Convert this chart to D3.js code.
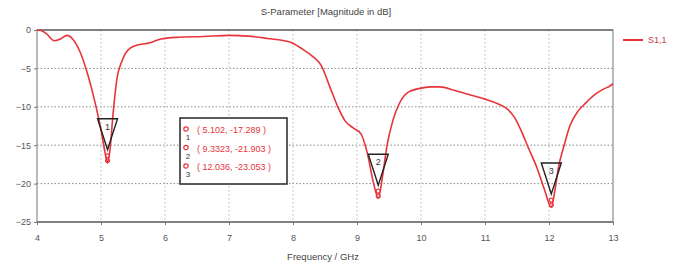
<!DOCTYPE html>
<html>
<head>
<meta charset="utf-8">
<script src="https://cdn.jsdelivr.net/npm/d3@7"></script>
<style>
  body { margin: 0; background: #fff; }
  svg { display: block; font-family: "Liberation Sans", Arial, sans-serif; }
</style>
</head>
<body>
<svg id="chart" width="676" height="265"></svg>
<script>
// S1,1 magnitude in dB
var freq = [4.00, 4.06, 4.15, 4.27, 4.36, 4.47, 4.56, 4.67, 4.80, 4.90, 5.00, 5.06, 5.102, 5.14, 5.19, 5.25, 5.33, 5.45, 5.60, 5.75,
            5.92, 6.20, 6.60, 7.00, 7.30, 7.60, 7.95, 8.15, 8.30, 8.44, 8.58, 8.70, 8.82, 8.95, 9.06, 9.16, 9.26, 9.3323, 9.40, 9.47,
            9.56, 9.66, 9.80, 9.98, 10.15, 10.30, 10.50, 10.75, 11.00, 11.20, 11.35, 11.47, 11.57, 11.68, 11.81, 11.93, 12.036, 12.09, 12.15, 12.23,
            12.33, 12.45, 12.55, 12.70, 12.85, 12.95, 13.00];
var s11 = [0, -0.05, -0.5, -1.4, -1.2, -0.7, -1.2, -2.8, -6.0, -9.2, -13.0, -15.8, -17.289, -15.6, -10.8, -6.3, -4.0, -2.4, -1.9, -1.7,
           -1.2, -0.95, -0.85, -0.7, -0.8, -1.1, -1.55, -2.5, -3.4, -4.6, -7.5, -10.0, -11.9, -12.8, -13.5, -16.0, -20.0, -21.903, -19.0, -15.0,
           -11.8, -9.6, -8.1, -7.6, -7.4, -7.4, -7.8, -8.4, -9.0, -9.6, -10.3, -11.5, -13.2, -15.4, -17.9, -20.8, -23.053, -21.0, -17.8, -15.2,
           -12.4, -10.6, -9.7, -8.5, -7.7, -7.3, -7.0];

var markerIds = ["1", "2", "3"];
var markerFreq = [5.102, 9.3323, 12.036];
var markerVal = [-17.289, -21.903, -23.053];
var markerText = ["( 5.102, -17.289 )", "( 9.3323, -21.903 )", "( 12.036, -23.053 )"];

var xTicks = [4, 5, 6, 7, 8, 9, 10, 11, 12, 13];
var yTicks = [0, -5, -10, -15, -20, -25];

var svg = d3.select("#chart");
var pLeft = 37, pRight = 613, pTop = 30, pBottom = 222;
var red = "#e8333b";

var x = d3.scaleLinear().domain([4, 13]).range([pLeft, pRight]);
var y = d3.scaleLinear().domain([0, -25]).range([pTop, pBottom]);

// grid
svg.append("g").selectAll("line")
  .data(yTicks.slice(1, -1))
  .enter().append("line")
  .attr("x1", pLeft).attr("x2", pRight)
  .attr("y1", function(d) { return y(d); }).attr("y2", function(d) { return y(d); })
  .attr("stroke", "#8a8a8a").attr("stroke-width", 1).attr("stroke-dasharray", "1.5,2");

svg.append("g").selectAll("line")
  .data(xTicks.slice(1, -1))
  .enter().append("line")
  .attr("y1", pTop).attr("y2", pBottom)
  .attr("x1", function(d) { return x(d); }).attr("x2", function(d) { return x(d); })
  .attr("stroke", "#b5b5b5").attr("stroke-width", 1).attr("stroke-dasharray", "1.5,2.5");

// frame
svg.append("rect")
  .attr("x", pLeft).attr("y", pTop)
  .attr("width", pRight - pLeft).attr("height", pBottom - pTop)
  .attr("fill", "none").attr("stroke", "#8c8c8c").attr("stroke-width", 1.2);
svg.append("line").attr("x1", pLeft).attr("x2", pRight).attr("y1", pTop).attr("y2", pTop)
  .attr("stroke", "#6e6e6e").attr("stroke-width", 1.4);
svg.append("line").attr("x1", pLeft).attr("x2", pRight).attr("y1", pBottom).attr("y2", pBottom)
  .attr("stroke", "#6e6e6e").attr("stroke-width", 1.4);

// axes
var xAxis = svg.append("g")
  .attr("transform", "translate(0," + pBottom + ")")
  .call(d3.axisBottom(x).tickValues(xTicks).tickSize(3).tickPadding(10));
var yAxis = svg.append("g")
  .attr("transform", "translate(" + pLeft + ",0)")
  .call(d3.axisLeft(y).tickValues(yTicks).tickSize(3).tickPadding(3));
[xAxis, yAxis].forEach(function(g) {
  g.select(".domain").remove();
  g.selectAll("line").attr("stroke", "#777");
  g.selectAll("text").attr("fill", "#555").attr("font-size", 9)
    .attr("font-family", "Liberation Sans, Arial, sans-serif");
});

// titles
svg.append("text").attr("x", 326).attr("y", 15).attr("text-anchor", "middle")
  .attr("font-size", 9.5).attr("fill", "#444").text("S-Parameter [Magnitude in dB]");
svg.append("text").attr("x", 323).attr("y", 260).attr("text-anchor", "middle")
  .attr("font-size", 9.5).attr("fill", "#444").text("Frequency / GHz");

// curve
var pts = freq.map(function(f, i) { return [f, s11[i]]; });
var line = d3.line()
  .x(function(d) { return x(d[0]); })
  .y(function(d) { return y(d[1]); })
  .curve(d3.curveMonotoneX);
svg.append("path").datum(pts)
  .attr("d", line)
  .attr("fill", "none").attr("stroke", red).attr("stroke-width", 1.6);

// markers on the curve
var mk = svg.append("g").selectAll("g")
  .data(markerFreq)
  .enter().append("g")
  .attr("transform", function(d, i) { return "translate(" + x(d) + "," + y(markerVal[i]) + ")"; });
mk.append("circle").attr("cx", 0).attr("cy", -2).attr("r", 2)
  .attr("fill", "none").attr("stroke", red).attr("stroke-width", 1.2);
mk.append("circle").attr("cx", 0).attr("cy", -7).attr("r", 2)
  .attr("fill", "none").attr("stroke", red).attr("stroke-width", 1.2);
mk.append("path")
  .attr("d", "M-10,-44 L10,-44 L0,-13 Z")
  .attr("fill", "none").attr("stroke", "#222").attr("stroke-width", 1.4);
mk.append("text").attr("x", 0).attr("y", -33).attr("text-anchor", "middle")
  .attr("font-size", 9).attr("fill", "#333")
  .text(function(d, i) { return markerIds[i]; });

// marker readout box
var box = svg.append("g");
box.append("rect").attr("x", 180).attr("y", 118).attr("width", 107).attr("height", 66)
  .attr("fill", "#fff").attr("stroke", "#333").attr("stroke-width", 1.6);
var rows = box.selectAll("g.row")
  .data(markerText)
  .enter().append("g").attr("class", "row")
  .attr("transform", function(d, i) { return "translate(0," + (133 + i * 18.5) + ")"; });
rows.append("circle").attr("cx", 186).attr("cy", -4).attr("r", 2.2)
  .attr("fill", "none").attr("stroke", red).attr("stroke-width", 1.2);
rows.append("text").attr("x", 188).attr("y", 7).attr("text-anchor", "middle")
  .attr("font-size", 8).attr("fill", "#333")
  .text(function(d, i) { return markerIds[i]; });
rows.append("text").attr("x", 197).attr("y", 0)
  .attr("font-size", 9).attr("fill", red)
  .text(function(d) { return d; });

// legend
svg.append("line").attr("x1", 623).attr("x2", 643).attr("y1", 40).attr("y2", 40)
  .attr("stroke", red).attr("stroke-width", 2);
svg.append("text").attr("x", 648).attr("y", 43)
  .attr("font-size", 9).attr("fill", "#c0404a").text("S1,1");
</script>
</body>
</html>
